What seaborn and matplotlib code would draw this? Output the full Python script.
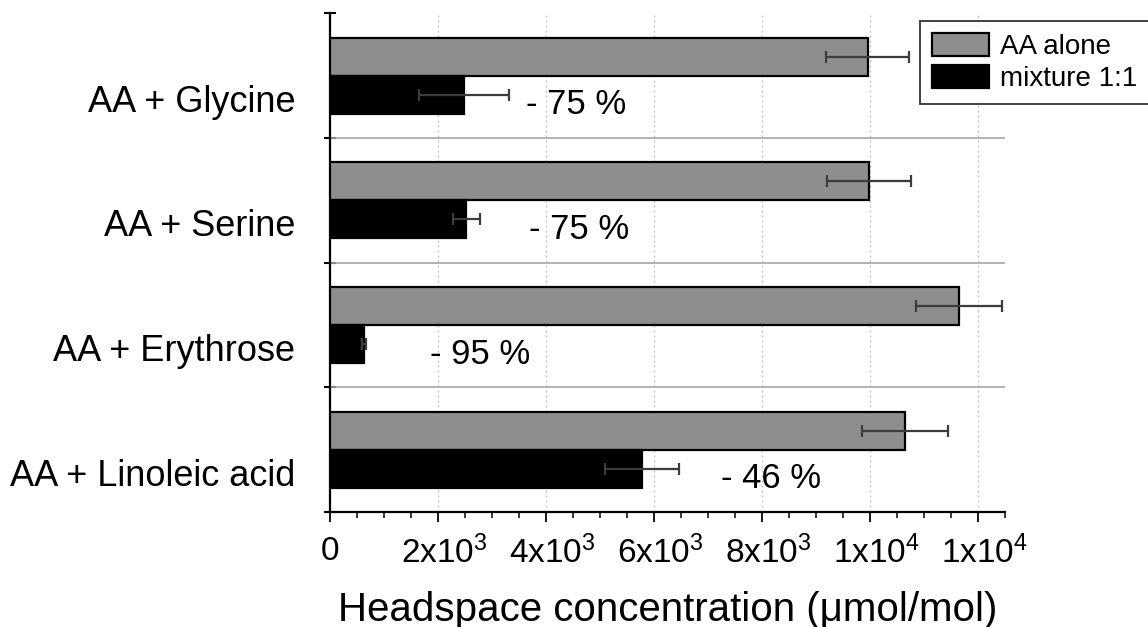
import matplotlib
matplotlib.use("Agg")
import matplotlib.pyplot as plt
import matplotlib.transforms as mtransforms
from matplotlib.ticker import FixedLocator, MultipleLocator
import seaborn as sns
import pandas as pd

# ---- data ----
combos = ["AA + Glycine", "AA + Serine", "AA + Erythrose", "AA + Linoleic acid"]
series = ["AA alone", "mixture 1:1"]
aa_alone = [9960, 9980, 11650, 10650]
aa_alone_err = [770, 780, 800, 790]
mixture = [2480, 2520, 630, 5780]
mixture_err = [830, 250, 40, 680]
reduction_labels = ["- 75 %", "- 75 %", "- 95 %", "- 46 %"]
reduction_x = [3630, 3685, 1850, 7240]
xtick_values = [0, 2000, 4000, 6000, 8000, 10000, 12000]
xtick_labels = ["0", r"2x10$^{3}$", r"4x10$^{3}$", r"6x10$^{3}$", r"8x10$^{3}$",
                r"1x10$^{4}$", r"1x10$^{4}$"]
xlabel = "Headspace concentration (μmol/mol)"

df = pd.DataFrame({
    "combo": combos * 2,
    "series": [series[0]] * 4 + [series[1]] * 4,
    "value": aa_alone + mixture,
})

sns.set_style("white")
plt.rcParams["font.family"] = ["Liberation Sans", "DejaVu Sans"]
plt.rcParams["mathtext.fontset"] = "custom"
plt.rcParams["mathtext.rm"] = "Liberation Sans"
plt.rcParams["mathtext.default"] = "regular"
for k in ["text.color", "axes.labelcolor", "xtick.color", "ytick.color"]:
    plt.rcParams[k] = "black"

W, H = 1148, 627
fig = plt.figure(figsize=(W / 100, H / 100), dpi=100)
ax = fig.add_axes([330 / W, 1 - 512 / H, 675 / W, (512 - 13.3) / H])

sns.barplot(data=df, y="combo", x="value", hue="series", orient="h",
            order=combos, hue_order=series,
            palette=["#8e8e8e", "#000000"], edgecolor="black", linewidth=1.6,
            width=0.61, errorbar=None, ax=ax, legend=True, zorder=3)

# error bars at the bar ends, using the bar geometry seaborn produced
errs = [aa_alone_err, mixture_err]
for cont, err in zip(ax.containers, errs):
    ys = [p.get_y() + p.get_height() / 2 for p in cont.patches]
    xs = [p.get_width() for p in cont.patches]
    ax.errorbar(xs, ys, xerr=err, fmt="none", ecolor="#3c3c3c",
                elinewidth=1.6, capsize=4.5, capthick=1.6, zorder=4)

# reduction annotations
for i, (lab, xv) in enumerate(zip(reduction_labels, reduction_x)):
    ax.text(xv, i + 0.235, lab, fontsize=25, ha="left", va="center",
            color="black", zorder=5)

# axes limits
ax.set_xlim(0, 12500)
ax.set_ylim(3.5, -0.5)

# separators between groups
for b in [0.5, 1.5, 2.5]:
    ax.axhline(b, color="#a6a6a6", lw=1.2, zorder=1)

# vertical dotted grid
for xv in xtick_values[1:]:
    ax.axvline(xv, color="#bdbdbd", lw=0.9, ls=(0, (1.5, 2.5)), zorder=0)

# spines
for s in ["top", "right"]:
    ax.spines[s].set_visible(False)
for s in ["left", "bottom"]:
    ax.spines[s].set_linewidth(1.6)
    ax.spines[s].set_color("black")

# x ticks
ax.set_xticks(xtick_values)
ax.set_xticklabels(xtick_labels, fontsize=24)
ax.xaxis.set_minor_locator(MultipleLocator(500))
ax.tick_params(axis="x", which="major", direction="out", length=7, width=1.3,
               pad=10, color="black", bottom=True)
ax.tick_params(axis="x", which="minor", direction="out", length=4.3, width=1.1,
               color="black", bottom=True)
offset = mtransforms.ScaledTranslation(6 / 100, 0, fig.dpi_scale_trans)
for lab in ax.get_xticklabels()[1:]:
    lab.set_transform(lab.get_transform() + offset)

# y ticks: labels near the lower bar, marks at group boundaries
ax.set_yticks([i + 0.18 for i in range(len(combos))])
ax.set_yticklabels(combos, fontsize=26)
ax.yaxis.set_minor_locator(FixedLocator([-0.5, 0.5, 1.5, 2.5, 3.5]))
ax.tick_params(axis="y", which="major", length=0, pad=25, left=True)
ax.tick_params(axis="y", which="minor", direction="inout", length=8.6,
               width=1.5, color="black", left=True)

ax.set_xlabel(xlabel, fontsize=29, labelpad=15, color="black")
ax.set_ylabel("")

# legend
handles, labels = ax.get_legend_handles_labels()
if ax.get_legend() is not None:
    ax.get_legend().remove()
leg = fig.legend(handles[:2], labels[:2], loc="upper left",
                 bbox_to_anchor=(920 / W, 1 - 21 / H),
                 bbox_transform=fig.transFigure, frameon=True, fancybox=False,
                 fontsize=20, handlelength=2.05, handleheight=0.9,
                 handletextpad=0.42, borderpad=0.42, labelspacing=0.2,
                 borderaxespad=0)
leg.get_frame().set_edgecolor("black")
leg.get_frame().set_linewidth(1.3)
for t in leg.get_texts():
    t.set_color("black")
for h in leg.legend_handles:
    h.set_edgecolor("black")
    h.set_linewidth(1.6)

fig.savefig("out.png", dpi=100)
